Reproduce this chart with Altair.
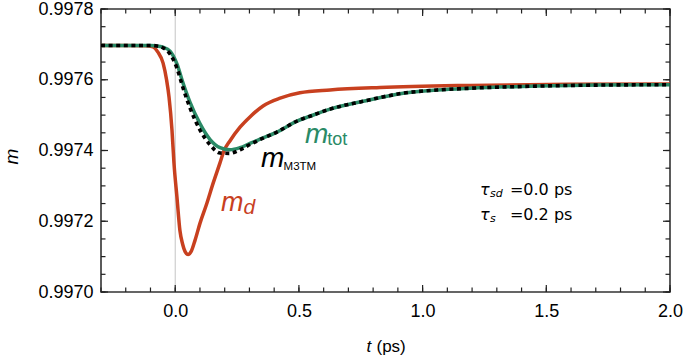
import altair as alt
import pandas as pd

# ---- data ----
t_md = [-0.30, -0.20, -0.12, -0.09, -0.07, -0.049, -0.035, -0.025, -0.013, -0.005,
        0.007, 0.019, 0.030, 0.040, 0.052, 0.064, 0.080, 0.100, 0.128, 0.153,
        0.181, 0.197, 0.221, 0.262, 0.302, 0.355, 0.424, 0.504, 0.626, 0.828,
        1.192, 1.596, 2.000]
m_md = [0.997697, 0.997697, 0.997696, 0.997693, 0.997678, 0.997647, 0.997600, 0.997551, 0.997457, 0.997364,
        0.997268, 0.997174, 0.997135, 0.997114, 0.997106, 0.997114, 0.997146, 0.997194, 0.997251, 0.997307,
        0.997365, 0.997399, 0.997427, 0.997466, 0.997495, 0.997526, 0.997548, 0.997563, 0.997571, 0.997578,
        0.997584, 0.997587, 0.997588]

t_tot = [-0.30, -0.10, -0.08, -0.049, -0.021, 0.007, 0.031, 0.060, 0.100, 0.141,
         0.181, 0.221, 0.262, 0.302, 0.343, 0.411, 0.492, 0.545, 0.626, 0.759,
         0.921, 1.058, 1.192, 1.462, 1.717, 2.000]
m_tot = [0.997697, 0.997697, 0.997696, 0.997692, 0.997681, 0.997645, 0.997592, 0.997536, 0.997476, 0.997431,
         0.997408, 0.997402, 0.997408, 0.997420, 0.997432, 0.997452, 0.997483, 0.997497, 0.997517, 0.997539,
         0.997562, 0.997571, 0.997576, 0.997582, 0.997585, 0.997586]

t_m3tm = [-0.30, -0.10, -0.08, -0.049, -0.021, 0.007, 0.031, 0.060, 0.100, 0.141,
          0.181, 0.221, 0.262, 0.302, 0.343, 0.411, 0.492, 0.545, 0.626, 0.759,
          0.921, 1.058, 1.192, 1.462, 1.717, 2.000]
m_m3tm = [0.997697, 0.997697, 0.997696, 0.997690, 0.997673, 0.997633, 0.997578, 0.997520, 0.997458, 0.997416,
          0.997393, 0.997392, 0.997402, 0.997417, 0.997431, 0.997452, 0.997483, 0.997497, 0.997517, 0.997539,
          0.997562, 0.997571, 0.997576, 0.997582, 0.997585, 0.997586]

zero_line_t = [0.0]

x_major = [0.0, 0.5, 1.0, 1.5, 2.0]
y_major = [0.9970, 0.9972, 0.9974, 0.9976, 0.9978]
x_minor = [round(-0.3 + 0.1 * i, 2) for i in range(24)]
y_minor = [round(0.9970 + 0.00005 * i, 6) for i in range(17)]

W, H = 569, 283
RED = "#c8401f"
GREEN = "#2a8a66"
TICK = "#222222"

df_md = pd.DataFrame({"t": t_md, "m": m_md})
df_tot = pd.DataFrame({"t": t_tot, "m": m_tot})
df_m3 = pd.DataFrame({"t": t_m3tm, "m": m_m3tm})
df_zero = pd.DataFrame({"t": zero_line_t})

xs = alt.Scale(domain=[-0.3, 2.0], nice=False, zero=False)
ys = alt.Scale(domain=[0.9970, 0.9978], nice=False, zero=False)

# vertical line at t = 0
zero_rule = alt.Chart(df_zero).mark_rule(color="#c4c4c4", strokeWidth=1).encode(
    x=alt.X("t:Q", scale=xs, axis=None)
)

# red line with the labelled axes
line_md = alt.Chart(df_md).mark_line(color=RED, strokeWidth=3.5, interpolate="monotone").encode(
    x=alt.X("t:Q", scale=xs, axis=alt.Axis(
        orient="bottom", values=x_major, format=".1f", ticks=False, tickSize=0, domain=False,
        grid=False, labelPadding=10, labelFlush=False, labelFontSize=18,
        labelFont="Liberation Sans", labelColor="black",
        title="t", titleFont="Liberation Sans", titleFontSize=17, titleFontStyle="italic",
        titleFontWeight="normal", titleColor="black", titleX=265, titleY=59,
        titleAlign="left", titleBaseline="alphabetic", titleAngle=0)),
    y=alt.Y("m:Q", scale=ys, axis=alt.Axis(
        orient="left", values=y_major, format=".4f", ticks=False, tickSize=0, domain=False,
        grid=False, labelPadding=8, labelFontSize=18, labelFont="Liberation Sans",
        labelColor="black", labelBaseline="middle",
        title="m", titleFont="Liberation Sans", titleFontSize=19, titleFontStyle="italic",
        titleFontWeight="normal", titleColor="black", titleX=-84, titleY=147,
        titleAlign="center", titleBaseline="alphabetic", titleAngle=270)),
)

line_tot = alt.Chart(df_tot).mark_line(color=GREEN, strokeWidth=3.5, interpolate="monotone").encode(
    x=alt.X("t:Q", scale=xs, axis=None),
    y=alt.Y("m:Q", scale=ys, axis=None),
)

line_m3 = alt.Chart(df_m3).mark_line(color="black", strokeWidth=3.6, strokeDash=[4, 3.6],
                                     strokeCap="butt", interpolate="monotone").encode(
    x=alt.X("t:Q", scale=xs, axis=None),
    y=alt.Y("m:Q", scale=ys, axis=None),
)

# invisible layer carrying the upright "(ps)" part of the x title
title_ps = alt.Chart(df_md).mark_line(strokeOpacity=0).encode(
    x=alt.X("t:Q", scale=xs, axis=alt.Axis(
        orient="top", offset=0, values=x_major, ticks=False, labels=False, domain=False,
        grid=False, title="(ps)", titleFont="Liberation Sans", titleFontSize=17,
        titleFontStyle="normal", titleFontWeight="normal", titleColor="black",
        titleX=275, titleY=342, titleAlign="left", titleBaseline="alphabetic", titleAngle=0)),
    y=alt.Y("m:Q", scale=ys, axis=None),
)


# inward ticks on all four sides of the frame
def x_ticks(values, y0, y1):
    return alt.Chart(pd.DataFrame({"v": values})).mark_rule(color=TICK, strokeWidth=1.2).encode(
        x=alt.X("v:Q", scale=xs, axis=None), y=alt.value(y0), y2=alt.value(y1))


def y_ticks(values, x0, x1):
    return alt.Chart(pd.DataFrame({"v": values})).mark_rule(color=TICK, strokeWidth=1.2).encode(
        y=alt.Y("v:Q", scale=ys, axis=None), x=alt.value(x0), x2=alt.value(x1))


ticks = [
    x_ticks(x_major, H - 7, H), x_ticks(x_minor, H - 4.5, H),
    x_ticks(x_major, 0, 7), x_ticks(x_minor, 0, 4.5),
    y_ticks(y_major, 0, 7), y_ticks(y_minor, 0, 4.5),
    y_ticks(y_major, W - 7, W), y_ticks(y_minor, W - 4.5, W),
]


def label(t, m, text, color, size, font="Liberation Sans", style="normal"):
    d = pd.DataFrame({"t": [t], "m": [m], "label": [text]})
    return alt.Chart(d).mark_text(
        align="left", baseline="alphabetic", color=color, fontSize=size,
        font=font, fontStyle=style
    ).encode(
        x=alt.X("t:Q", scale=xs, axis=None),
        y=alt.Y("m:Q", scale=ys, axis=None),
        text="label:N",
    )


labels = [
    label(0.185, 0.997229, "m", RED, 27, style="italic"),
    label(0.276, 0.997220, "d", RED, 21, style="italic"),
    label(0.525, 0.997421, "m", GREEN, 28, style="italic"),
    label(0.615, 0.997416, "tot", GREEN, 18),
    label(0.347, 0.997353, "m", "black", 28, style="italic"),
    label(0.438, 0.997345, "M3TM", "black", 11.5),
    label(1.232, 0.997274, "τ", "black", 16, font="DejaVu Sans", style="italic"),
    label(1.272, 0.997269, "sd", "black", 11, font="DejaVu Sans", style="italic"),
    label(1.353, 0.997274, "=0.0 ps", "black", 16, font="DejaVu Sans"),
    label(1.232, 0.997204, "τ", "black", 16, font="DejaVu Sans", style="italic"),
    label(1.272, 0.997198, "s", "black", 11, font="DejaVu Sans", style="italic"),
    label(1.353, 0.997204, "=0.2 ps", "black", 16, font="DejaVu Sans"),
]

chart = alt.layer(
    zero_rule, *ticks, line_md, line_tot, line_m3, title_ps, *labels
).resolve_axis(
    x="independent", y="independent"
).properties(
    width=W, height=H,
    autosize=alt.AutoSizeParams(type="none"),
    padding={"left": 101, "top": 9, "right": 13, "bottom": 70},
).configure_view(
    stroke="#333333", strokeWidth=1.6
).configure_axis(
    grid=False
)

chart.save("out.html", embed_options={"renderer": "svg", "actions": False})
